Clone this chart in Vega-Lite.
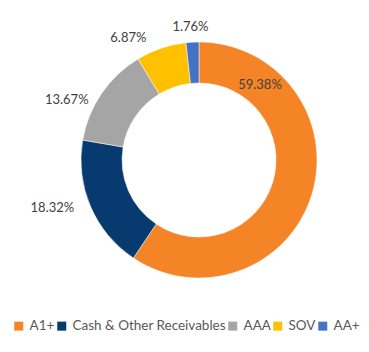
{
  "$schema": "https://vega.github.io/schema/vega-lite/v6.json",
  "width": 240,
  "height": 240,
  "autosize": {"type": "none"},
  "padding": {"left": 79, "top": 40, "right": 50, "bottom": 72},
  "background": "white",
  "data": {
    "values": [
      {"category": "A1+", "share": 59.38, "rank": 1, "label": "59.38%"},
      {"category": "Cash & Other Receivables", "share": 18.32, "rank": 2, "label": "18.32%"},
      {"category": "AAA", "share": 13.67, "rank": 3, "label": "13.67%"},
      {"category": "SOV", "share": 6.87, "rank": 4, "label": "6.87%"},
      {"category": "AA+", "share": 1.76, "rank": 5, "label": "1.76%"}
    ]
  },
  "encoding": {
    "theta": {"field": "share", "type": "quantitative", "stack": true},
    "order": {"field": "rank", "type": "quantitative"}
  },
  "layer": [
    {
      "mark": {"type": "arc", "outerRadius": 118, "innerRadius": 77, "stroke": "white", "strokeWidth": 0.5},
      "encoding": {
        "color": {
          "field": "category",
          "type": "nominal",
          "scale": {
            "domain": ["A1+", "Cash & Other Receivables", "AAA", "SOV", "AA+"],
            "range": ["#F58426", "#073B6F", "#A5A5A5", "#FFC000", "#4472C4"]
          },
          "legend": {
            "orient": "none",
            "direction": "horizontal",
            "legendX": -67,
            "legendY": 279,
            "title": null,
            "symbolType": "square",
            "symbolSize": 81,
            "symbolStrokeWidth": 0,
            "labelFont": "Lato",
            "labelFontSize": 13.5,
            "labelColor": "#595959",
            "columnPadding": 0,
            "labelOffset": 4
          }
        }
      }
    },
    {
      "mark": {"type": "text", "radius": 96.6, "thetaOffset": -1.182, "font": "Lato", "fontSize": 13, "color": "#404040", "align": "center", "baseline": "middle"},
      "encoding": {"text": {"condition": {"test": "datum.category === 'A1+'", "field": "label"}, "value": ""}}
    },
    {
      "mark": {"type": "text", "radius": 154.2, "thetaOffset": 0.091, "font": "Lato", "fontSize": 13, "color": "#404040", "align": "center", "baseline": "middle"},
      "encoding": {"text": {"condition": {"test": "datum.category === 'Cash & Other Receivables'", "field": "label"}, "value": ""}}
    },
    {
      "mark": {"type": "text", "radius": 145.1, "thetaOffset": -0.175, "font": "Lato", "fontSize": 13, "color": "#404040", "align": "center", "baseline": "middle"},
      "encoding": {"text": {"condition": {"test": "datum.category === 'AAA'", "field": "label"}, "value": ""}}
    },
    {
      "mark": {"type": "text", "radius": 141.4, "thetaOffset": -0.197, "font": "Lato", "fontSize": 13, "color": "#404040", "align": "center", "baseline": "middle"},
      "encoding": {"text": {"condition": {"test": "datum.category === 'SOV'", "field": "label"}, "value": ""}}
    },
    {
      "mark": {"type": "text", "radius": 133.3, "thetaOffset": -0.009, "font": "Lato", "fontSize": 13, "color": "#404040", "align": "center", "baseline": "middle"},
      "encoding": {"text": {"condition": {"test": "datum.category === 'AA+'", "field": "label"}, "value": ""}}
    }
  ],
  "config": {"view": {"stroke": null}}
}
